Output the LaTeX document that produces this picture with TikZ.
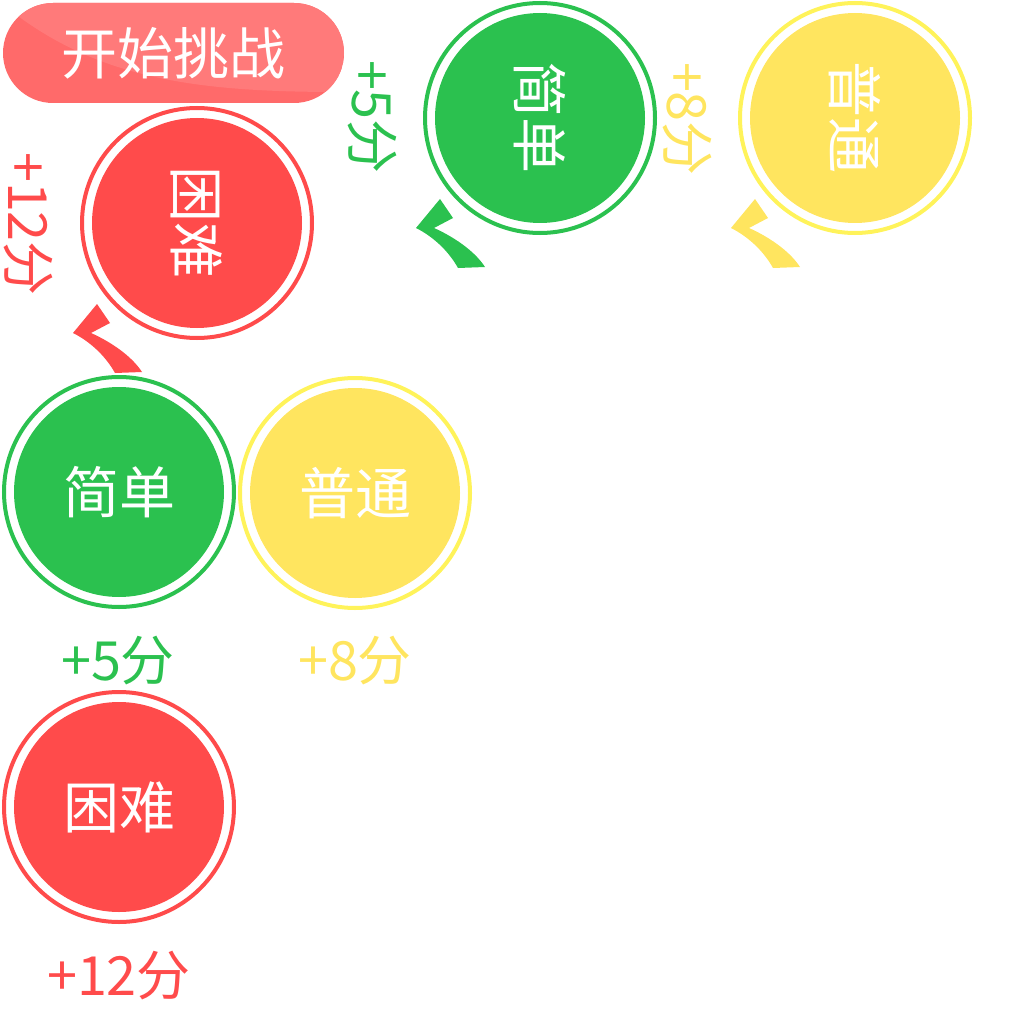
\documentclass[tikz,border=0pt]{standalone}
\usepackage{fontspec}
\setmainfont{Noto Sans CJK SC}
\definecolor{cg}{RGB}{43,193,79}
\definecolor{cy}{RGB}{255,229,95}
\definecolor{cyr}{RGB}{255,243,90}
\definecolor{cr}{RGB}{255,75,75}
\definecolor{btndark}{RGB}{255,106,106}
\definecolor{btnlight}{RGB}{255,122,122}
\begin{document}
\begin{tikzpicture}[x=1pt,y=-1pt,
  disc/.style={circle, fill=#1, text=white, inner sep=0pt, minimum size=210pt, font=\fontsize{56}{60}\selectfont},
  ringline/.style={draw=#1, line width=4pt},
  score/.style={text=#1, inner sep=0pt, font=\fontsize{54}{58}\selectfont},
  tick/.pic={\fill (-124,110) -- (-100,81) -- (-87,100) -- (-106,110)
      .. controls (-88,118) and (-66,132) .. (-55,149) -- (-82,150)
      .. controls (-92,132) and (-108,118) .. (-124,110) -- cycle;}
]
\useasboundingbox (0,0) rectangle (1024,1024);
% button
\node[rounded corners=50pt, fill=btndark, minimum width=341pt, minimum height=100pt, inner sep=0pt] (btn) at (173.5,53) {};
\begin{scope}
  \clip[rounded corners=50pt] (3,3) rectangle (344,103);
  \fill[btnlight] (10,10) .. controls (100,80) and (200,92) .. (340,92) -- (350,-5) -- (0,-5) -- cycle;
\end{scope}
\node[text=white, inner sep=0pt, font=\fontsize{56}{60}\selectfont] (btntext) at (btn.center) {开始挑战};
% rotated row
\node[disc=cr, rotate=-90] (rhard) at (197,223) {困难};
\draw[ringline=cr] (rhard.center) circle[radius=115];
\node[disc=cg, rotate=-90] (reasy) at (540,118) {简单};
\draw[ringline=cg] (reasy.center) circle[radius=115];
\node[disc=cy, rotate=-90] (rmid) at (855,118) {普通};
\draw[ringline=cyr] (rmid.center) circle[radius=115];
\node[score=cr, rotate=-90] (srhard) at (28,224) {+12分};
\node[score=cg, rotate=-90] (sreasy) at (372,117) {+5分};
\node[score=cy, rotate=-90] (srmid) at (687,119) {+8分};
\pic[color=cr] at (rhard.center) {tick};
\pic[color=cg] at (reasy.center) {tick};
\pic[color=cy] at (rmid.center) {tick};
% upright column
\node[disc=cg] (easy) at (119,492) {简单};
\draw[ringline=cg] (easy.center) circle[radius=115];
\node[disc=cy] (mid) at (355,493) {普通};
\draw[ringline=cyr] (mid.center) circle[radius=115];
\node[disc=cr] (hard) at (119,807) {困难};
\draw[ringline=cr] (hard.center) circle[radius=115];
\node[score=cg] (seasy) at (118,661) {+5分};
\node[score=cy] (smid) at (355,661) {+8分};
\node[score=cr] (shard) at (119,976) {+12分};
\end{tikzpicture}
\end{document}
